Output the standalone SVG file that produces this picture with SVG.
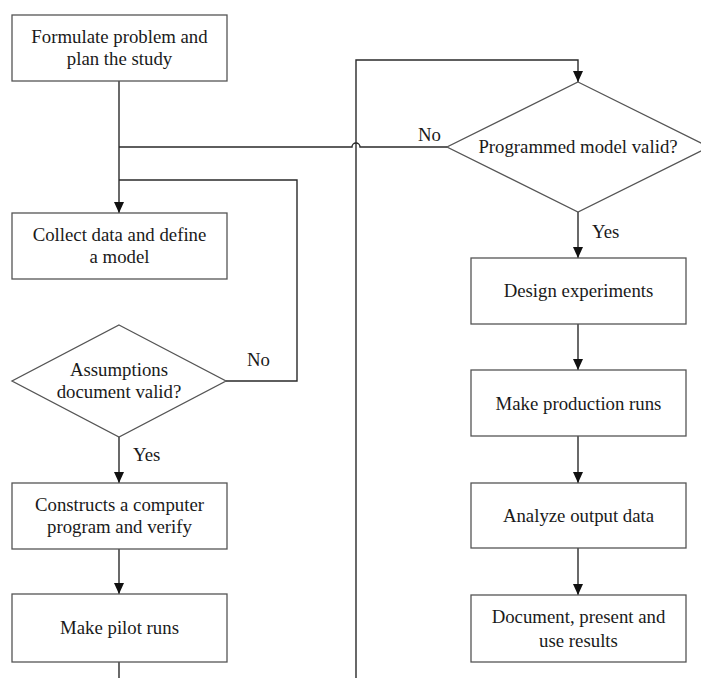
<svg xmlns="http://www.w3.org/2000/svg" width="701" height="678" viewBox="0 0 701 678">
<style>
.box{fill:#fff;stroke:#555;stroke-width:1.3}
.t{font-family:"Liberation Serif","Times New Roman",serif;font-size:18.8px;fill:#1a1a1a;text-anchor:middle}
.l{font-family:"Liberation Serif","Times New Roman",serif;font-size:18.8px;fill:#1a1a1a}
.c{fill:none;stroke:#2a2a2a;stroke-width:1.4}
</style>
<defs>
<marker id="ah" viewBox="0 0 11 10" refX="11" refY="5" markerWidth="11" markerHeight="10" markerUnits="userSpaceOnUse" orient="auto">
<path d="M0,0 L11,5 L0,10 z" fill="#111"/>
</marker>
</defs>
<rect width="701" height="678" fill="#fff"/>
<g id="connectors">
<path class="c" d="M119,81 V213" marker-end="url(#ah)"/>
<path class="c" d="M226,381 H297 V180 H119"/>
<path class="c" d="M447,147 H360 A4,4 0 0 0 352,147 H119"/>
<path class="c" d="M119,437 V483" marker-end="url(#ah)"/>
<path class="c" d="M119,549 V594" marker-end="url(#ah)"/>
<path class="c" d="M119,662 V678"/>
<path class="c" d="M356,678 V60 H578 V82" marker-end="url(#ah)"/>
<path class="c" d="M578,212 V258" marker-end="url(#ah)"/>
<path class="c" d="M578,324 V370" marker-end="url(#ah)"/>
<path class="c" d="M578,436 V483" marker-end="url(#ah)"/>
<path class="c" d="M578,548 V595" marker-end="url(#ah)"/>
<text class="l" x="247" y="366">No</text>
<text class="l" x="418" y="141">No</text>
<text class="l" x="133" y="461">Yes</text>
<text class="l" x="592" y="238">Yes</text>
</g>
<g id="formulate">
<rect class="box" x="12" y="15" width="215" height="66"/>
<text class="t" x="119.5" y="43">Formulate problem and</text>
<text class="t" x="119.5" y="65">plan the study</text>
</g>
<g id="collect">
<rect class="box" x="12" y="213" width="215" height="66"/>
<text class="t" x="119.5" y="241">Collect data and define</text>
<text class="t" x="119.5" y="263">a model</text>
</g>
<g id="assumptions">
<polygon class="box" points="119,325 226,381 119,437 12,381"/>
<text class="t" x="119" y="376">Assumptions</text>
<text class="t" x="119" y="398">document valid?</text>
</g>
<g id="construct">
<rect class="box" x="12" y="483" width="215" height="66"/>
<text class="t" x="119.5" y="511">Constructs a computer</text>
<text class="t" x="119.5" y="533">program and verify</text>
</g>
<g id="pilot">
<rect class="box" x="12" y="594" width="215" height="68"/>
<text class="t" x="119.5" y="634">Make pilot runs</text>
</g>
<g id="programmed">
<polygon class="box" points="578,82 709,147 578,212 447,147"/>
<text class="t" x="578" y="153">Programmed model valid?</text>
</g>
<g id="design">
<rect class="box" x="471" y="258" width="215" height="66"/>
<text class="t" x="578.5" y="297">Design experiments</text>
</g>
<g id="production">
<rect class="box" x="471" y="370" width="215" height="66"/>
<text class="t" x="578.5" y="410">Make production runs</text>
</g>
<g id="analyze">
<rect class="box" x="471" y="483" width="215" height="65"/>
<text class="t" x="578.5" y="522">Analyze output data</text>
</g>
<g id="document">
<rect class="box" x="471" y="595" width="215" height="67"/>
<text class="t" x="578.5" y="623">Document, present and</text>
<text class="t" x="578.5" y="647">use results</text>
</g>
</svg>
